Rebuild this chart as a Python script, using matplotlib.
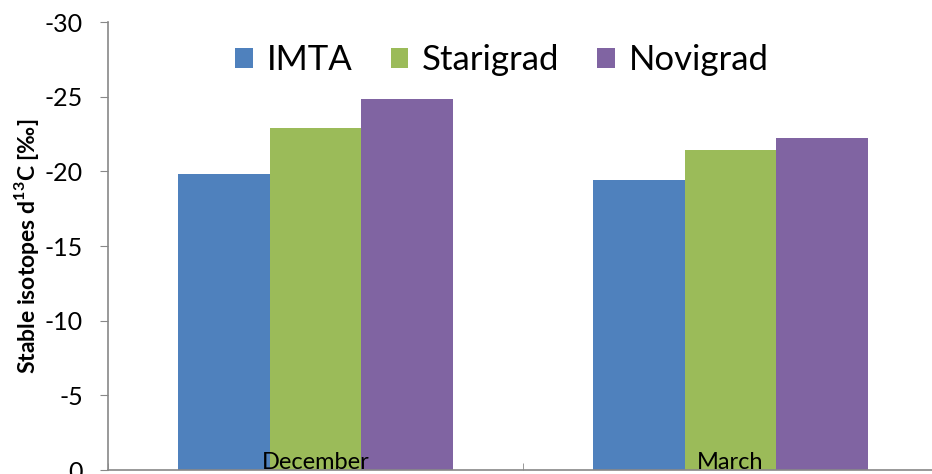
import matplotlib.pyplot as plt
from matplotlib.ticker import FixedLocator

plt.rcParams['font.family'] = ['Lato', 'DejaVu Sans']
plt.rcParams['mathtext.fontset'] = 'custom'
plt.rcParams['mathtext.rm'] = 'Lato'
plt.rcParams['mathtext.bf'] = 'Lato:bold'

months = ['December', 'March']
imta = [-19.8, -19.4]
starigrad = [-22.9, -21.4]
novigrad = [-24.85, -22.25]
series = [('IMTA', imta, '#4F81BD'), ('Starigrad', starigrad, '#9BBB59'), ('Novigrad', novigrad, '#8064A2')]

fig = plt.figure(figsize=(9.32, 4.74), dpi=100)
ax = fig.add_axes([108/932, 4/474, 830/932, 448/474])

w = 0.221
x = list(range(len(months)))
for i, (name, vals, col) in enumerate(series):
    ax.bar([xi + (i - 1) * w for xi in x], vals, width=w, color=col, label=name)

ax.set_xlim(-0.5, 1.5)
ax.set_ylim(0, -30)
ax.set_yticks([0, -5, -10, -15, -20, -25, -30])
ax.set_yticklabels(['0', '-5', '-10', '-15', '-20', '-25', '-30'])
ax.set_xticks(x)
ax.set_xticklabels(months)
ax.xaxis.set_minor_locator(FixedLocator([-0.5, 0.5, 1.5]))

for s in ['top', 'right']:
    ax.spines[s].set_visible(False)
for s in ['left', 'bottom']:
    ax.spines[s].set_color('#888888')
    ax.spines[s].set_linewidth(1.2)

ax.tick_params(axis='y', direction='out', length=6, color='#888888', labelsize=18, pad=12)
ax.tick_params(axis='x', which='major', length=0, labelsize=17, pad=-13)
ax.tick_params(axis='x', which='minor', direction='in', length=5, color='#888888')

fig.text(27/932, 0.48, r'Stable isotopes d$^{\mathbf{13}}$C [‰]', rotation=90,
         ha='center', va='center', fontsize=16.5, fontweight='bold')

ax.legend(loc='center', bbox_to_anchor=(502/932, 1 - 60/474), bbox_transform=fig.transFigure,
          ncol=3, frameon=False, fontsize=25, handlelength=0.5, handleheight=0.5,
          handletextpad=0.4, columnspacing=1.1)

fig.savefig('out.png', dpi=100)
